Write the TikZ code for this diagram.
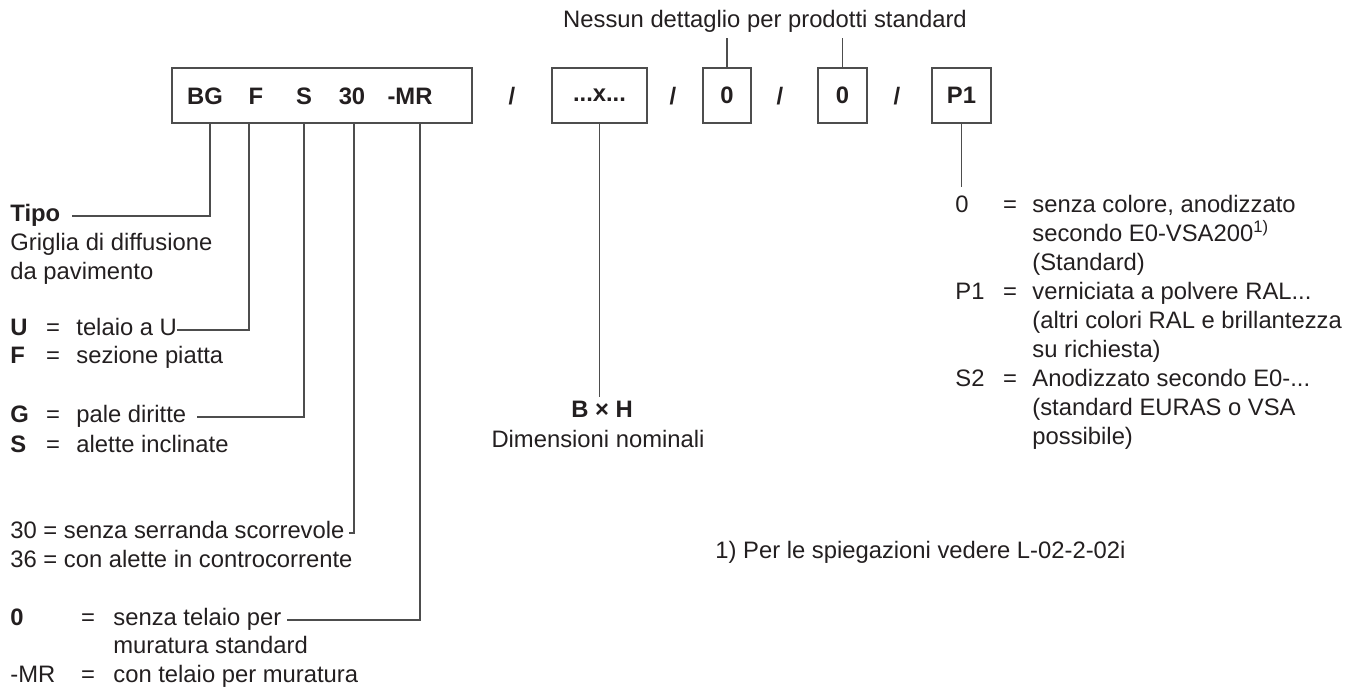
\documentclass[tikz,border=0pt]{standalone}
\usepackage{fontspec}
\setmainfont{Liberation Sans}
\definecolor{inkc}{RGB}{35,31,32}
\definecolor{rulec}{RGB}{77,77,77}

\begin{document}
\begin{tikzpicture}[x=0.5pt,y=-0.5pt,
  every node/.style={text=inkc, font=\fontsize{11.9}{14}\selectfont},
  codebox/.style={draw=rulec, line width=0.75pt, minimum height=27.5pt},
  code/.style={font=\fontsize{11.9}{14}\selectfont\bfseries, inner sep=0pt},
  conn/.style={draw=rulec, line width=0.75pt},
  lbl/.style={anchor=mid west, inner sep=0pt},
  eqs/.style={anchor=mid, inner sep=0pt}]

  \useasboundingbox (0,0) rectangle (1357,691);

  % type code
  \node[codebox, minimum width=150pt] (main) at (322,95.5) {};
  \node[code] (cBG) at (205,96) {BG};
  \node[code] (cF)  at (256,96) {F};
  \node[code] (cS)  at (304,96) {S};
  \node[code] (c30) at (352,96) {30};
  \node[code] (cMR) at (410,96) {-MR};
  \node[code] (sl1) at (512,96) {/};
  \node[codebox, code, minimum width=47.5pt] (dots) at (599.5,95.5) {...x...};
  \node[code] (sl2) at (673,96) {/};
  \node[codebox, code, minimum width=24pt] (zA) at (727,95.5) {0};
  \node[code] (sl3) at (780,96) {/};
  \node[codebox, code, minimum width=24.5pt] (zB) at (842.5,95.5) {0};
  \node[code] (sl4) at (897,96) {/};
  \node[codebox, code, minimum width=29.5pt] (colr) at (961.5,95.5) {P1};

  % drop points under the code
  \coordinate (dBG) at (210,123);
  \coordinate (dF)  at (249,123);
  \coordinate (dS)  at (304,123);
  \coordinate (d30) at (354,123);
  \coordinate (dMR) at (420,123);

  % standard products
  \node[anchor=mid, inner sep=2.5pt] (nessun) at (765,22) {Nessun dettaglio per prodotti standard};
  \draw[conn] (zA.north) -- (zA.north |- nessun.south);
  \draw[conn] (zB.north) -- (zB.north |- nessun.south);

  % type
  \node[lbl] (tipo) at (10,216) {\textbf{Tipo}};
  \node[lbl] (tipoA) at (10,245) {Griglia di diffusione};
  \node[lbl] (tipoB) at (10,274) {da pavimento};
  \draw[conn] (dBG) |- ([xshift=5.5pt]tipo.mid east);

  % frame
  \node[lbl] (kU) at (10,330) {\textbf{U}};
  \node[eqs] (eU) at (53,330) {=};
  \node[lbl] (tU) at (76,330) {telaio a U};
  \node[lbl] (kF) at (10,358) {\textbf{F}};
  \node[eqs] (eF) at (53,358) {=};
  \node[lbl] (tF) at (76,358) {sezione piatta};
  \draw[conn] (dF) |- (tU.mid east);

  % blades
  \node[lbl] (kG) at (10,417) {\textbf{G}};
  \node[eqs] (eG) at (53,417) {=};
  \node[lbl] (tG) at (76,417) {pale diritte};
  \node[lbl] (kS) at (10,447) {\textbf{S}};
  \node[eqs] (eS) at (53,447) {=};
  \node[lbl] (tS) at (76,447) {alette inclinate};
  \draw[conn] (dS) |- ([xshift=5pt]tG.mid east);

  % damper
  \node[lbl] (t30) at (10,533) {30 = senza serranda scorrevole};
  \node[lbl] (t36) at (10,562) {36 = con alette in controcorrente};
  \draw[conn] (d30) |- ([xshift=2pt]t30.mid east);

  % installation frame
  \node[lbl] (k0) at (10,620) {\textbf{0}};
  \node[eqs] (e0) at (88,620) {=};
  \node[lbl] (t0) at (113,620) {senza telaio per};
  \node[lbl] (t0b) at (113,648) {muratura standard};
  \node[lbl] (kMR) at (10,677) {-MR};
  \node[eqs] (eMR) at (88,677) {=};
  \node[lbl] (tMR) at (113,677) {con telaio per muratura};
  \draw[conn] (dMR) |- ([xshift=2.5pt]t0.mid east);

  % nominal size
  \node[code, anchor=mid, inner ysep=2pt] (bxh) at (602,412) {B × H};
  \node[anchor=mid, inner sep=0pt] (dimn) at (598,442) {Dimensioni nominali};
  \draw[conn] (dots.south) -- (dots.south |- bxh.north);

  % colour
  \node[lbl, inner ysep=4pt] (kc0) at (955,207) {0};
  \node[eqs] (ec0) at (1010,207) {=};
  \node[lbl] (vc0a) at (1032,207) {senza colore, anodizzato};
  \node[lbl] (vc0b) at (1032,236) {secondo E0-VSA200\textsuperscript{1)}};
  \node[lbl] (vc0c) at (1032,265) {(Standard)};
  \node[lbl] (kP1) at (955,294) {P1};
  \node[eqs] (eP1) at (1010,294) {=};
  \node[lbl] (vP1a) at (1032,294) {verniciata a polvere RAL...};
  \node[lbl] (vP1b) at (1032,323) {(altri colori RAL e brillantezza};
  \node[lbl] (vP1c) at (1032,352) {su richiesta)};
  \node[lbl] (kS2) at (955,381) {S2};
  \node[eqs] (eS2) at (1010,381) {=};
  \node[lbl] (vS2a) at (1032,381) {Anodizzato secondo E0-...};
  \node[lbl] (vS2b) at (1032,410) {(standard EURAS o VSA};
  \node[lbl] (vS2c) at (1032,439) {possibile)};
  \draw[conn] (colr.south) -- (colr.south |- kc0.north);

  % footnote
  \node[lbl] (fnote) at (715,553) {1) Per le spiegazioni vedere L-02-2-02i};

\end{tikzpicture}
\end{document}
